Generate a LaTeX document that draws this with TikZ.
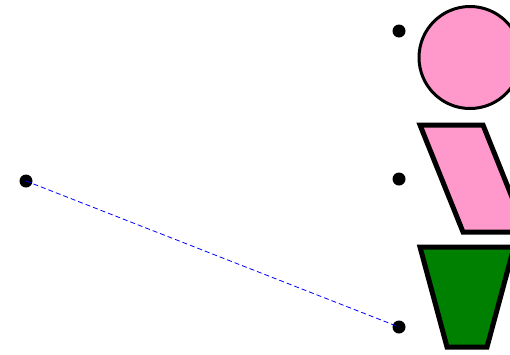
\documentclass[tikz,border=0pt]{standalone}
\usepackage{xcolor}
\usepackage{tikz}
\usetikzlibrary{calc,arrows.meta}

\definecolor{pinkfill}{RGB}{255,153,204}
\definecolor{darkgreen}{RGB}{0,128,0}

\begin{document}
\begin{tikzpicture}[
        x=1pt, y=-1pt,
        dot/.style={circle, fill=black, inner sep=0pt, minimum size=13pt},
        outline/.style={draw=black, line width=5pt, line join=miter},
        link/.style={draw=blue, dash pattern=on 5pt off 3pt, line width=0.8pt}
    ]
        \useasboundingbox (0,0) rectangle (510,354);
        \clip (0,0) rectangle (510,354);

        \node[dot] (origin) at (26,181) {};
        \node[dot] (markcircle) at (399,31) {};
        \node[dot] (markpara) at (399,179) {};
        \node[dot] (marktrap) at (399,327) {};

        \draw[link] (origin.center) -- (marktrap.center);

        \draw[fill=pinkfill, line width=3pt] (470,57.5) circle (51pt);
        \draw[outline, fill=pinkfill] (420,125) -- (483,125) -- (526,232) -- (463,232) -- cycle;
        \draw[outline, fill=darkgreen] (420,247) -- (514,247) -- (487,347) -- (447,347) -- cycle;
    \end{tikzpicture}
\end{document}
